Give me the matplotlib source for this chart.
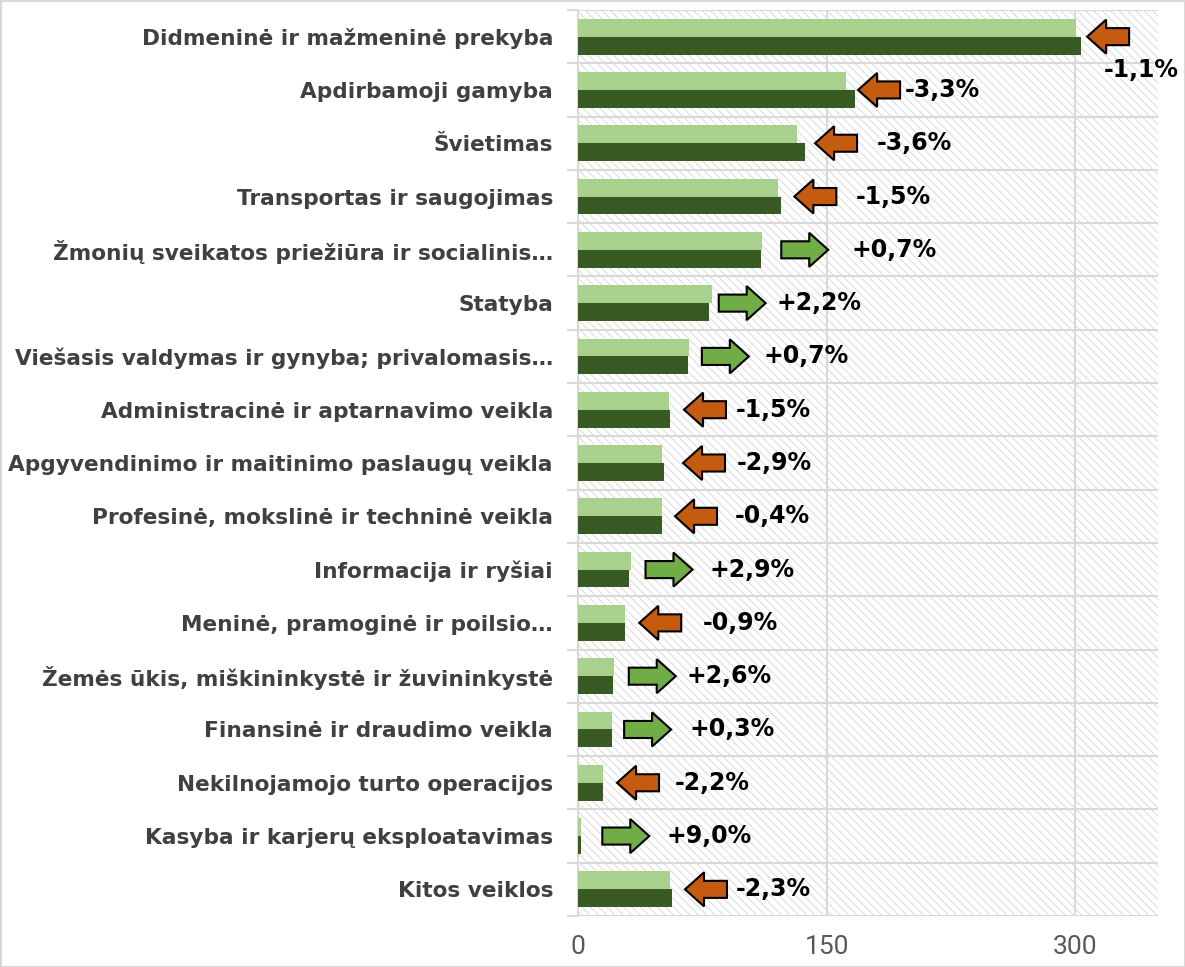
import matplotlib.pyplot as plt
from matplotlib.patches import Polygon, Rectangle
import numpy as np

# categories, top to bottom
categories = [
    "Didmeninė ir mažmeninė prekyba",
    "Apdirbamoji gamyba",
    "Švietimas",
    "Transportas ir saugojimas",
    "Žmonių sveikatos priežiūra ir socialinis…",
    "Statyba",
    "Viešasis valdymas ir gynyba; privalomasis…",
    "Administracinė ir aptarnavimo veikla",
    "Apgyvendinimo ir maitinimo paslaugų veikla",
    "Profesinė, mokslinė ir techninė veikla",
    "Informacija ir ryšiai",
    "Meninė, pramoginė ir poilsio…",
    "Žemės ūkis, miškininkystė ir žuvininkystė",
    "Finansinė ir draudimo veikla",
    "Nekilnojamojo turto operacijos",
    "Kasyba ir karjerų eksploatavimas",
    "Kitos veiklos",
]
# light green (newer) and dark green (older) values
val_new = [300.3, 161.7, 132.1, 120.9, 111.2, 80.7, 66.9, 54.7, 50.4, 50.5,
           31.7, 28.2, 21.6, 20.6, 14.8, 2.0, 55.4]
val_old = [303.6, 167.2, 137.0, 122.7, 110.4, 79.0, 66.4, 55.5, 51.9, 50.7,
           30.8, 28.5, 21.1, 20.5, 15.1, 1.8, 56.7]
change = [-1.1, -3.3, -3.6, -1.5, 0.7, 2.2, 0.7, -1.5, -2.9, -0.4,
          2.9, -0.9, 2.6, 0.3, -2.2, 9.0, -2.3]
xticks = [0, 150, 300]

# layout: gaps in pixels (bar end -> arrow, arrow -> label)
arrow_gap_px = [6, 3, 10, 13, 19, 7, 13, 14, 19, 13, 15, 14, 15, 12, 14, 21, 13]
label_gap_px = [0, 5, 20, 19, 23, 11, 15, 10, 12, 18, 17, 22, 11, 18, 16, 17, 9]

W, H = 1185, 967
fig = plt.figure(figsize=(W / 100, H / 100), dpi=100)
fig.patch.set_edgecolor('#D9D9D9')
fig.patch.set_linewidth(2)
plt.rcParams['hatch.linewidth'] = 0.7

x0, x1, ytop, ybot = 578, 1158, 10, 916
ax = fig.add_axes([x0 / W, 1 - ybot / H, (x1 - x0) / W, (ybot - ytop) / H])
xmax = 350
ax.set_xlim(0, xmax)
n = len(categories)
ax.set_ylim(n - 0.5, -0.5)
px = xmax / (x1 - x0)  # data units per pixel

# hatched background
ax.add_patch(Rectangle((0, -0.5), xmax, n, facecolor='white', edgecolor='#DADADA',
                       hatch='\\\\\\\\', linewidth=0, zorder=0))

y = np.arange(n)
h = 0.335
ax.barh(y - h / 2, val_new, height=h, color='#A9D18E', zorder=3)
ax.barh(y + h / 2, val_old, height=h, color='#3A5A24', zorder=3)

# grid lines
for v in xticks[1:]:
    ax.axvline(v, color='#D9D9D9', lw=1.5, zorder=1)
ax.set_yticks(np.arange(-0.5, n, 1), minor=True)
ax.grid(which='minor', axis='y', color='#D9D9D9', lw=1.5, zorder=1)
ax.tick_params(axis='y', which='minor', length=8, color='#D9D9D9', width=1.5)
ax.tick_params(axis='y', which='major', length=0, pad=18)
ax.tick_params(axis='x', length=0, pad=14)
for s in ['top', 'right', 'bottom']:
    ax.spines[s].set_visible(False)
ax.spines['left'].set_color('#D9D9D9')
ax.spines['left'].set_linewidth(1.5)

ax.set_yticks(y)
ax.set_yticklabels(categories, fontsize=15.6, fontweight='bold', color='#404040')
ax.set_xticks(xticks)
ax.set_xticklabels([str(t) for t in xticks], fontsize=19, color='#595959',
                   family=['Roboto', 'DejaVu Sans'])


def arrow_pts(start, length, yc, direction):
    hl, hh, sh = 11.5, 0.32, 0.16
    if direction > 0:
        tail, tip, s = start, start + length, 1
    else:
        tip, tail, s = start, start + length, -1
    base = tip - s * hl
    return [(tail, yc - sh), (base, yc - sh), (base, yc - hh), (tip, yc),
            (base, yc + hh), (base, yc + sh), (tail, yc + sh)]


for i, c in enumerate(change):
    end = max(val_new[i], val_old[i])
    start = end + arrow_gap_px[i] * px
    length = (47 if c > 0 else 42) * px
    col = '#70AD47' if c > 0 else '#C55A11'
    ax.add_patch(Polygon(arrow_pts(start, length, i, c), closed=True, facecolor=col,
                         edgecolor='black', lw=1.5, zorder=4, clip_on=False))
    txt = ('+' if c > 0 else '') + f"{c:.1f}".replace('.', ',') + '%'
    if i == 0:
        tx, ty = start + 17 * px, i + 0.63
    else:
        tx, ty = start + length + label_gap_px[i] * px, i
    ax.text(tx, ty, txt, ha='left', va='center', fontsize=17, fontweight='bold',
            color='black', zorder=5, clip_on=False)

fig.savefig('out.png', dpi=100)
